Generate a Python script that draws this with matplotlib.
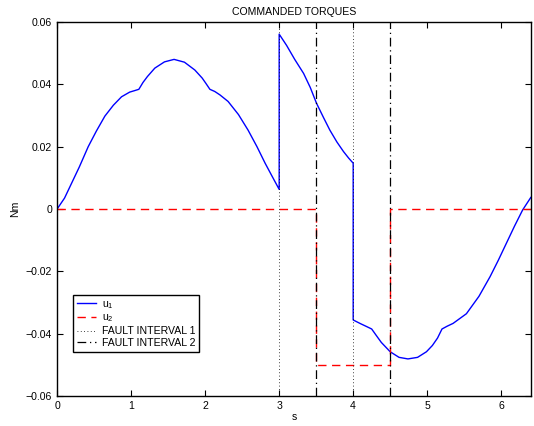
""" Commanded torques with two fault intervals """

import matplotlib
matplotlib.use("Agg")
import matplotlib.pyplot as plt
import numpy as np

plt.rcParams['font.family'] = ['Liberation Sans', 'DejaVu Sans']
plt.rcParams['mathtext.default'] = 'regular'

# u1 (time in s, torque in Nm)
t1 = [0.0, 0.1, 0.194, 0.3, 0.42, 0.53, 0.645, 0.76, 0.87, 0.98, 1.05, 1.104,
      1.16, 1.22, 1.32, 1.45, 1.58, 1.72, 1.86, 1.96, 2.01, 2.064,
      2.13, 2.2, 2.31, 2.45, 2.58, 2.7, 2.81, 2.9, 3.0,
      3.0, 3.1, 3.21, 3.33, 3.42, 3.505, 3.6, 3.685, 3.78, 3.87, 3.94, 4.0,
      4.0, 4.1, 4.18, 4.25, 4.31, 4.38, 4.5, 4.62, 4.74, 4.87, 4.99, 5.07, 5.14, 5.2,
      5.27, 5.35, 5.53, 5.7, 5.85, 5.96, 6.07, 6.18, 6.29, 6.4]
u1 = [0.0, 0.0035, 0.0082, 0.0135, 0.020, 0.025, 0.0298, 0.0333, 0.036, 0.0375, 0.0380, 0.0384,
      0.0406, 0.0425, 0.0452, 0.0472, 0.048, 0.0471, 0.0446, 0.0420, 0.0403, 0.0384,
      0.0377, 0.0366, 0.0345, 0.0303, 0.0253, 0.0200, 0.0147, 0.0107, 0.0063,
      0.0561, 0.0525, 0.048, 0.0435, 0.0390, 0.0339, 0.0293, 0.0253, 0.0215, 0.0184, 0.0163, 0.0147,
      -0.0356, -0.0368, -0.0377, -0.0385, -0.0405, -0.0428, -0.0458, -0.0476, -0.0481, -0.0476, -0.0458, -0.0438, -0.0414, -0.0385,
      -0.0376, -0.0367, -0.0336, -0.0280, -0.0217, -0.0165, -0.011, -0.0055, -0.0003, 0.0037]

# u2 is zero except during fault interval 2
t2 = [0.0, 3.5, 3.5, 4.5, 4.5, 6.4]
u2 = [0.0, 0.0, -0.05, -0.05, 0.0, 0.0]

fault1 = [3.0, 4.0]
fault2 = [3.5, 4.5]

xticks = [0, 1, 2, 3, 4, 5, 6]
yticks = [-0.06, -0.04, -0.02, 0, 0.02, 0.04, 0.06]
ylabels = ['\u22120.06', '\u22120.04', '\u22120.02', '0', '0.02', '0.04', '0.06']

fs = 7.6

fig = plt.figure(figsize=(5.34, 4.26), dpi=100)
ax = fig.add_axes([0.107, 0.0704, 0.887, 0.878])

ax.plot(t1, u1, color='#0000ff', lw=1.0, label='u$_1$')
ax.plot(t2, u2, color='#ff0000', lw=1.0, ls=(0, (6, 4)), label='u$_2$')
for i, f in enumerate(fault1):
    ax.axvline(f, color='k', lw=0.6, ls=(0, (1, 3)),
               label='FAULT INTERVAL 1' if i == 0 else None)
for i, f in enumerate(fault2):
    ax.axvline(f, color='k', lw=0.9, ls=(0, (7, 3, 1, 3)),
               label='FAULT INTERVAL 2' if i == 0 else None)

ax.set_xlim(0, 6.4)
ax.set_ylim(-0.06, 0.06)
ax.set_xticks(xticks)
ax.set_yticks(yticks)
ax.set_yticklabels(ylabels)
ax.tick_params(direction='in', top=True, right=True, labelsize=fs, length=4, width=0.8)
for s in ax.spines.values():
    s.set_linewidth(1.0)

ax.set_title('COMMANDED TORQUES', fontsize=fs, pad=5)
ax.set_xlabel('s', fontsize=fs, labelpad=1)
ax.set_ylabel('Nm', fontsize=fs)
ax.yaxis.set_label_coords(-0.078, 0.5)

leg = ax.legend(loc='lower left', bbox_to_anchor=(0.034, 0.118), fontsize=fs,
                fancybox=False, framealpha=1, edgecolor='k', borderpad=0.35,
                labelspacing=0.18, handlelength=1.8, handletextpad=0.6,
                borderaxespad=0)
leg.get_frame().set_linewidth(1.0)

fig.savefig('out.png', dpi=100)
